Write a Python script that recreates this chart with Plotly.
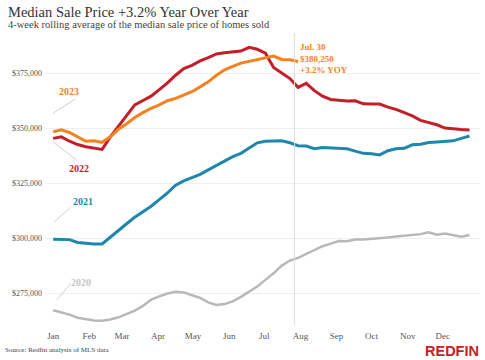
import datetime as dt
import plotly.graph_objects as go

# Weekly dates (plotted on a common calendar year)
start = dt.date(2023, 1, 1)
weeks = [start + dt.timedelta(days=7 * i) for i in range(52)]

# Values in dollars (thousands)
s2020 = [267.2, 266.2, 265.2, 263.8, 263.0, 262.5, 262.4, 263.0, 264.0, 265.5,
         267.0, 269.2, 272.0, 273.5, 274.8, 275.6, 275.3, 274.0, 272.8, 270.8,
         269.6, 270.0, 271.2, 273.3, 275.5, 278.0, 281.0, 284.0, 287.5, 289.8,
         291.0, 292.8, 294.5, 296.3, 297.5, 298.7, 298.6, 299.3, 299.4, 299.6,
         299.9, 300.3, 300.7, 301.1, 301.5, 301.8, 302.6, 301.5, 302.1, 301.5,
         300.6, 301.4]
s2021 = [299.5, 299.5, 299.3, 298.0, 297.5, 297.3, 297.3, 300.5, 303.3, 306.5,
         309.5, 312.0, 314.5, 317.5, 320.5, 324.0, 326.0, 327.5, 329.0, 331.0,
         333.0, 335.0, 337.0, 338.5, 341.0, 343.3, 344.0, 344.2, 344.2, 343.3,
         342.0, 341.8, 340.6, 341.2, 341.0, 340.8, 340.6, 339.5, 338.5, 338.3,
         337.8, 339.7, 340.6, 340.8, 342.4, 342.6, 343.4, 343.7, 343.9, 344.2,
         345.3, 346.4]
s2022 = [345.3, 346.0, 344.0, 342.5, 341.5, 340.8, 340.3, 346.0, 351.0, 356.0,
         360.5, 362.5, 364.5, 367.5, 370.5, 374.0, 377.0, 378.5, 380.5, 382.0,
         383.7, 384.2, 384.5, 385.0, 386.7, 385.8, 384.0, 377.5, 375.0, 372.5,
         368.5, 370.3, 367.0, 364.5, 363.0, 362.5, 362.3, 362.4, 361.0, 360.9,
         360.9, 359.5, 358.5, 357.0, 355.5, 353.5, 352.5, 351.5, 350.0, 349.5,
         349.3, 349.1]
s2023 = [348.3, 349.2, 348.0, 346.0, 344.0, 344.2, 343.5, 346.0, 349.5, 352.0,
         354.8, 357.0, 359.0, 360.5, 362.4, 363.5, 365.0, 366.5, 368.7, 371.0,
         374.0, 376.5, 378.0, 379.5, 380.3, 381.2, 382.0, 382.7, 381.2, 381.0,
         380.25]

series = [
    ("2020", s2020, "#b8b8b8", 2.5),
    ("2021", s2021, "#1f87ab", 3),
    ("2022", s2022, "#c41e2a", 3),
    ("2023", s2023, "#f5821f", 3),
]

ytick_vals = [275000, 300000, 325000, 350000, 375000]
ytick_text = ["$275,000", "$300,000", "$325,000", "$350,000", "$375,000"]

SERIF = "Liberation Serif, Times New Roman, serif"

fig = go.Figure()
for name, vals, color, w in series:
    fig.add_trace(go.Scatter(
        x=weeks[:len(vals)], y=[v * 1000 for v in vals], mode="lines",
        name=name, line=dict(color=color, width=w), showlegend=False,
    ))

def d(m, day):
    return dt.date(2023, m, day)

# Leader lines & year labels
labels = [
    ("2023", "#f5821f", d(1, 15), 366800, (d(1, 1), 356800, d(1, 20), 363200)),
    ("2022", "#c41e2a", d(1, 23), 331400, (d(1, 1), 343600, d(1, 21), 335500)),
    ("2021", "#1f87ab", d(1, 27), 316800, (d(1, 2), 307300, d(1, 16), 314100)),
    ("2020", "#c4c4c4", d(1, 25), 280000, (d(1, 4), 271800, d(1, 16), 279500)),
]
for txt, color, tx, ty, (x0, y0, x1, y1) in labels:
    fig.add_shape(type="line", xref="x", yref="y", x0=x0, y0=y0, x1=x1, y1=y1,
                  line=dict(color="#d0d0d0", width=1))
    fig.add_annotation(x=tx, y=ty, xref="x", yref="y", text="<b>" + txt + "</b>",
                       showarrow=False, font=dict(family=SERIF, size=10, color=color))

# Vertical reference line at Jul 30
fig.add_shape(type="line", xref="x", yref="paper", x0=d(7, 27), x1=d(7, 27), y0=0, y1=1,
              line=dict(color="#dddddd", width=1))
fig.add_annotation(x=d(7, 30), y=373000, xref="x", yref="y", xanchor="left", yanchor="bottom",
                   align="left", showarrow=False,
                   text="<b>Jul. 30<br>$380,250<br>+3.2% YOY</b>",
                   font=dict(family=SERIF, size=9, color="#f5821f"))

# Page-pixel positioned texts
L, R, T, B = 45, 5, 33, 35
pw, ph = 485 - L - R, 360 - T - B

def px(x):
    return (x - L) / pw

def py(y):
    return (360 - B - y) / ph

fig.add_annotation(x=px(6), y=py(12), xref="paper", yref="paper", showarrow=False,
                   xanchor="left", yanchor="middle", text="Median Sale Price +3.2% Year Over Year",
                   font=dict(family=SERIF, size=14.5, color="#333333"))
fig.add_annotation(x=px(6), y=py(25), xref="paper", yref="paper", showarrow=False,
                   xanchor="left", yanchor="middle",
                   text="4-week rolling average of the median sale price of homes sold",
                   font=dict(family=SERIF, size=10.5, color="#444444"))
fig.add_annotation(x=px(3), y=py(350), xref="paper", yref="paper", showarrow=False,
                   xanchor="left", yanchor="middle", text="Source: Redfin analysis of MLS data",
                   font=dict(family=SERIF, size=7, color="#444444"))
fig.add_annotation(x=px(481), y=py(351), xref="paper", yref="paper", showarrow=False,
                   xanchor="right", yanchor="middle", text="<b>REDFIN</b>",
                   font=dict(family="Liberation Sans, Arial, sans-serif", size=14.5, color="#c82021"))

fig.update_layout(
    width=485, height=360,
    margin=dict(l=L, r=R, t=T, b=B),
    paper_bgcolor="white", plot_bgcolor="white",
    xaxis=dict(range=[dt.date(2022, 12, 25), dt.date(2024, 1, 2)],
               tickformat="%b", dtick="M1", tick0=d(1, 1), showgrid=False,
               zeroline=False, showline=False, ticks="", ticklabelstandoff=4,
               tickfont=dict(family=SERIF, size=9, color="#555555")),
    yaxis=dict(range=[260500, 393200], tickvals=ytick_vals, ticktext=ytick_text,
               showgrid=True, gridcolor="#efefef", gridwidth=1, zeroline=False,
               showline=False, ticks="", ticklabelstandoff=2,
               tickfont=dict(family=SERIF, size=8, color="#555555")),
)

fig.write_html("out.html", config={"displayModeBar": False},
               post_script="document.body.style.margin='0';document.body.style.overflow='hidden';")
